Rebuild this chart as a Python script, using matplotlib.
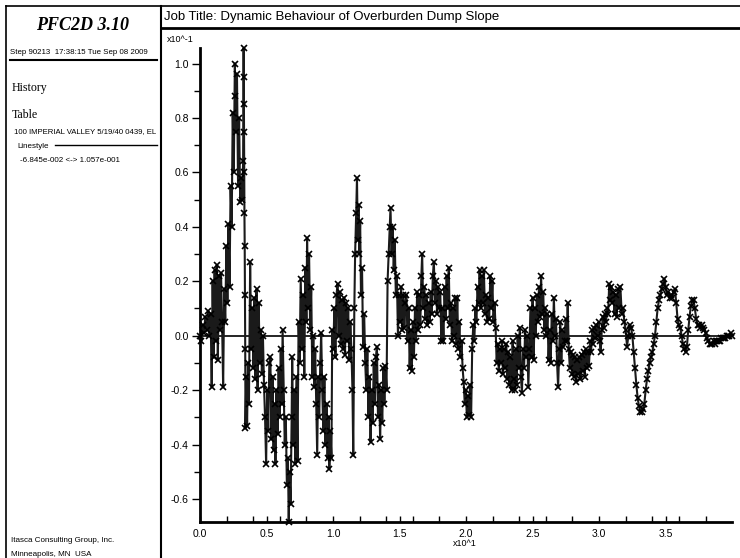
import matplotlib
matplotlib.use('Agg')
import matplotlib.pyplot as plt
from matplotlib.lines import Line2D
from matplotlib.ticker import MultipleLocator, FormatStrFormatter
import numpy as np

W, H = 740, 558

# history 100: (time in s, value in units of 1e-1)
seg_a = [(0.00, 0.00), (0.10, -0.02), (0.20, 0.04), (0.30, 0.01), (0.40, 0.07), (0.50, 0.02), (0.60, 0.09), (0.70, 0.00), (0.80, 0.08), (0.88, -0.19),
         (0.95, 0.20), (1.02, -0.08), (1.10, 0.24), (1.18, -0.02), (1.26, 0.26), (1.34, -0.09), (1.42, 0.22), (1.50, 0.02), (1.58, 0.23), (1.66, 0.05),
         (1.74, -0.19), (1.82, 0.17), (1.90, 0.05), (1.98, 0.33), (2.06, 0.12), (2.14, 0.41), (2.22, 0.18), (2.30, 0.55), (2.38, 0.40), (2.46, 0.82),
         (2.54, 0.60), (2.62, 1.00), (2.66, 0.88), (2.70, 0.75), (2.78, 0.96), (2.86, 0.55), (2.94, 0.80), (3.02, 0.49), (3.10, 0.58), (3.18, 0.50), (3.24, 0.64),
         (3.28, 1.057), (3.29, 0.95), (3.30, 0.85), (3.31, 0.75), (3.32, 0.60), (3.34, 0.45), (3.36, 0.33), (3.38, 0.15), (3.40, -0.05), (3.42, -0.34),
         (3.48, -0.15), (3.54, -0.33), (3.60, -0.10), (3.68, -0.25), (3.77, 0.27), (3.85, -0.05),
         (3.93, 0.10), (4.01, -0.12), (4.09, 0.14), (4.17, -0.16), (4.25, 0.17), (4.33, -0.20), (4.41, 0.12), (4.49, -0.10), (4.57, 0.02), (4.65, -0.14),
         (4.73, 0.00), (4.81, -0.18), (4.89, -0.30), (4.97, -0.47), (5.05, -0.20), (5.13, -0.35), (5.21, -0.10), (5.29, -0.08), (5.37, -0.38), (5.45, -0.15),
         (5.53, -0.42), (5.61, -0.25), (5.67, -0.47), (5.75, -0.20), (5.83, -0.36), (5.91, -0.12), (5.99, -0.30), (6.07, -0.05), (6.15, -0.25), (6.21, 0.02),
         (6.29, -0.20), (6.37, -0.40), (6.45, -0.30), (6.53, -0.55), (6.61, -0.45), (6.67, -0.6845), (6.73, -0.50), (6.81, -0.62), (6.89, -0.30), (6.93, -0.08),
         (7.01, -0.40), (7.09, -0.20), (7.17, -0.47), (7.25, -0.15), (7.33, -0.46), (7.41, 0.05), (7.49, -0.10), (7.57, 0.21)]

seg_b = [(7.68, -0.05), (7.76, 0.15), (7.84, -0.15), (7.92, 0.25), (8.00, 0.05), (8.05, 0.36), (8.12, 0.10), (8.20, 0.30), (8.28, 0.02), (8.36, 0.18),
         (8.44, -0.15), (8.52, 0.00), (8.58, -0.19), (8.66, -0.05), (8.74, -0.25), (8.81, -0.44), (8.88, -0.15), (8.96, -0.30), (9.04, -0.10), (9.11, 0.01),
         (9.19, -0.20), (9.27, -0.35), (9.35, -0.15), (9.43, -0.40), (9.51, -0.25), (9.59, -0.45), (9.67, -0.30), (9.72, -0.49), (9.80, -0.35), (9.88, -0.45),
         (9.94, 0.02), (10.02, -0.05), (10.10, 0.10), (10.18, -0.08), (10.26, 0.15), (10.34, 0.19), (10.42, 0.00), (10.50, 0.16), (10.58, -0.03), (10.66, 0.13),
         (10.74, -0.05), (10.82, 0.14), (10.90, -0.07), (10.98, 0.12), (11.06, -0.02), (11.14, 0.10), (11.22, -0.09), (11.30, 0.05), (11.38, -0.05), (11.46, -0.20),
         (11.52, -0.44), (11.60, 0.10), (11.66, 0.30), (11.74, 0.45), (11.80, 0.58), (11.86, 0.35), (11.92, 0.48), (11.98, 0.30), (12.04, 0.42), (12.10, 0.15),
         (12.18, 0.25), (12.26, -0.04), (12.34, 0.08), (12.42, -0.10), (12.50, -0.20), (12.58, -0.05), (12.66, -0.30), (12.74, -0.15), (12.82, -0.39), (12.90, -0.20),
         (12.98, -0.32), (13.06, -0.10), (13.14, -0.25), (13.22, -0.08), (13.30, -0.04), (13.38, -0.30), (13.46, -0.18), (13.54, -0.38), (13.62, -0.20), (13.70, -0.32),
         (13.78, -0.12), (13.86, -0.25), (13.94, -0.11), (14.02, -0.20), (14.10, 0.20), (14.18, 0.30), (14.26, 0.40), (14.32, 0.47), (14.40, 0.30), (14.48, 0.40),
         (14.56, 0.24), (14.64, 0.35), (14.72, 0.15), (14.80, 0.22), (14.88, 0.00), (14.96, 0.15), (15.04, 0.05), (15.12, 0.18), (15.20, 0.02), (15.28, 0.15),
         (15.36, 0.03), (15.44, 0.12)]

seg_c = [(15.52, 0.15), (15.60, -0.02), (15.68, 0.10), (15.76, -0.12), (15.84, 0.02), (15.92, -0.13), (16.00, 0.05), (16.08, -0.08), (16.16, 0.10), (16.24, -0.02),
         (16.32, 0.16), (16.40, 0.02), (16.48, 0.15), (16.56, 0.04), (16.64, 0.22), (16.70, 0.30), (16.78, 0.10), (16.86, 0.18), (16.94, 0.06), (17.02, 0.15),
         (17.10, 0.04), (17.18, 0.12), (17.26, 0.05), (17.34, 0.16), (17.42, 0.08), (17.50, 0.22), (17.58, 0.27), (17.66, 0.12), (17.74, 0.20), (17.82, 0.08),
         (17.90, 0.18), (17.98, 0.10), (18.06, 0.16), (18.14, -0.02), (18.22, 0.10), (18.30, -0.02), (18.38, 0.18), (18.46, 0.06), (18.54, 0.22), (18.62, 0.10),
         (18.70, 0.25), (18.78, 0.04), (18.86, 0.12), (18.94, -0.02), (19.02, 0.10), (19.10, 0.00), (19.18, 0.14), (19.26, -0.03), (19.34, 0.14), (19.42, -0.05),
         (19.50, 0.05), (19.58, -0.08), (19.66, -0.02), (19.74, -0.12), (19.82, -0.17), (19.90, -0.25), (19.98, -0.20), (20.06, -0.30), (20.14, -0.22), (20.22, -0.29),
         (20.30, -0.18), (20.38, -0.30), (20.46, -0.05), (20.54, 0.04), (20.62, -0.02), (20.70, 0.10), (20.78, 0.05), (20.86, 0.18), (20.94, 0.12), (21.02, 0.24),
         (21.10, 0.10), (21.18, 0.22), (21.26, 0.12), (21.34, 0.24), (21.42, 0.08), (21.50, 0.15), (21.58, 0.05), (21.66, 0.14), (21.74, 0.06), (21.82, 0.22),
         (21.90, 0.10), (21.98, 0.20), (22.06, 0.05), (22.14, 0.12), (22.22, 0.03), (22.30, -0.10), (22.38, -0.03), (22.46, -0.13), (22.54, -0.05), (22.62, -0.10),
         (22.70, -0.02), (22.78, -0.14), (22.86, -0.05), (22.94, -0.12), (23.02, -0.03), (23.10, -0.16), (23.18, -0.06), (23.26, -0.18), (23.34, -0.08), (23.42, -0.20)]

seg_d = [(23.50, -0.02), (23.58, -0.16), (23.65, -0.20), (23.72, -0.05), (23.80, -0.18), (23.88, 0.00), (23.96, -0.12), (24.04, 0.03), (24.12, -0.15), (24.20, -0.21),
         (24.28, -0.05), (24.36, -0.12), (24.44, 0.02), (24.52, -0.08), (24.60, 0.00), (24.68, -0.19), (24.76, -0.05), (24.84, 0.10), (24.92, -0.08), (25.00, 0.14),
         (25.08, -0.09), (25.16, 0.10), (25.24, 0.00), (25.32, 0.15), (25.40, 0.05), (25.48, 0.18), (25.56, 0.07), (25.64, 0.22), (25.72, 0.08), (25.80, 0.16),
         (25.88, 0.02), (25.96, 0.10), (26.04, 0.00), (26.12, 0.08), (26.20, -0.09), (26.28, 0.02), (26.36, -0.10), (26.44, 0.08), (26.52, -0.02), (26.60, 0.14),
         (26.68, 0.00), (26.76, 0.06), (26.84, -0.10), (26.92, -0.19), (27.00, -0.05), (27.08, 0.05), (27.16, -0.10), (27.24, 0.02), (27.32, -0.04), (27.40, -0.02),
         (27.48, 0.06), (27.56, -0.02), (27.64, 0.12), (27.72, -0.05), (27.80, -0.12), (27.88, -0.06), (27.96, -0.14), (28.04, -0.07), (28.12, -0.15), (28.20, -0.08),
         (28.28, -0.17), (28.36, -0.09), (28.44, -0.14), (28.52, -0.08), (28.60, -0.16), (28.68, -0.07), (28.76, -0.13), (28.84, -0.06), (28.92, -0.15), (29.00, -0.05),
         (29.08, -0.12), (29.16, -0.06), (29.24, -0.11), (29.32, -0.02), (29.40, -0.06), (29.48, 0.02), (29.56, -0.03), (29.64, 0.03), (29.72, -0.01), (29.80, 0.04),
         (29.88, 0.00), (29.96, 0.05), (30.04, -0.02), (30.12, -0.06), (30.20, 0.02), (30.28, 0.07), (30.36, 0.03), (30.44, 0.08), (30.52, 0.05), (30.60, 0.10),
         (30.68, 0.08), (30.76, 0.19), (30.84, 0.13), (30.92, 0.18), (31.00, 0.12), (31.08, 0.16), (31.16, 0.08), (31.24, 0.15), (31.32, 0.07), (31.40, 0.17)]

seg_e = [(31.50, 0.10), (31.60, 0.18), (31.70, 0.08), (31.80, 0.10), (31.90, 0.05), (32.00, 0.02), (32.10, -0.04), (32.20, 0.00), (32.30, 0.04), (32.40, 0.03),
         (32.50, 0.00), (32.60, -0.06), (32.70, -0.12), (32.80, -0.18), (32.90, -0.23), (33.00, -0.26), (33.10, -0.28), (33.20, -0.28), (33.30, -0.27), (33.40, -0.25),
         (33.50, -0.20), (33.60, -0.16), (33.70, -0.13), (33.80, -0.10), (33.90, -0.08), (34.00, -0.06), (34.10, -0.03), (34.20, 0.00), (34.30, 0.05), (34.40, 0.10),
         (34.50, 0.13), (34.60, 0.15), (34.70, 0.17), (34.80, 0.19), (34.90, 0.21), (35.00, 0.18), (35.10, 0.15), (35.20, 0.16), (35.30, 0.14), (35.40, 0.15),
         (35.50, 0.14), (35.60, 0.16), (35.70, 0.17), (35.80, 0.12), (35.90, 0.06), (36.00, 0.04), (36.10, 0.03), (36.20, 0.00), (36.30, -0.03), (36.40, -0.05),
         (36.50, -0.06), (36.60, -0.04), (36.70, 0.02), (36.80, 0.07), (36.90, 0.11), (37.00, 0.13), (37.10, 0.13), (37.20, 0.10), (37.30, 0.06), (37.40, 0.04),
         (37.50, 0.04), (37.60, 0.03), (37.70, 0.04), (37.80, 0.03), (37.90, 0.02), (38.00, 0.01), (38.10, -0.01), (38.20, -0.02), (38.30, -0.03), (38.40, -0.03),
         (38.50, -0.03), (38.60, -0.02), (38.70, -0.03), (38.80, -0.02), (38.90, -0.02), (39.00, -0.02), (39.10, -0.02), (39.20, -0.01), (39.30, -0.01), (39.40, -0.01),
         (39.50, -0.01), (39.60, 0.00), (39.70, 0.00), (39.80, 0.00), (39.90, 0.01), (39.99, 0.00)]


def fx(px):
    return px / W


def fy(py):
    return 1 - py / H


def sci3(v):
    # Fortran-like format: -6.845e-002
    e = int(np.floor(np.log10(abs(v))))
    return f'{v / 10 ** e:.3f}e{e:+04d}'


hist = np.array(seg_a + seg_b + seg_c + seg_d + seg_e)
t = hist[:, 0] / 10.0   # x10^1 s
v = hist[:, 1]          # x10^-1
vmin, vmax = v.min() * 0.1, v.max() * 0.1

plt.rcParams['font.family'] = ['Liberation Sans', 'DejaVu Sans']
fig = plt.figure(figsize=(W / 100, H / 100), dpi=100)

ax = fig.add_axes([fx(200), fy(522), fx(732) - fx(200), fy(48) - fy(522)])
ax.axhline(0, color='black', lw=1.2, zorder=1)
ax.plot(t, v, color='#1a1a1a', lw=1.5, marker='x', ms=4.6, mec='black', mew=1.2, clip_on=False, zorder=2)
ax.set_xlim(0, t.max())
ax.set_ylim(v.min(), v.max())

for side in ('top', 'right'):
    ax.spines[side].set_visible(False)
for side in ('left', 'bottom'):
    ax.spines[side].set_linewidth(2)

ax.xaxis.set_major_locator(MultipleLocator(0.5))
ax.xaxis.set_minor_locator(MultipleLocator(0.2))
ax.yaxis.set_major_locator(MultipleLocator(0.2))
ax.yaxis.set_minor_locator(MultipleLocator(0.1))
ax.xaxis.set_major_formatter(FormatStrFormatter('%.1f'))
ax.yaxis.set_major_formatter(FormatStrFormatter('%.1f'))
ax.tick_params(axis='x', which='both', direction='in', length=4, width=1, labelsize=7.5, pad=5)
ax.tick_params(axis='y', which='major', direction='out', length=6, width=1, labelsize=7.5, pad=2)
ax.tick_params(axis='y', which='minor', direction='out', length=4, width=1)

fig.text(fx(167), fy(40), 'x10^-1', fontsize=6.5, va='center', ha='left')
fig.text(fx(465), fy(544), 'x10^1', fontsize=6.5, va='center', ha='center')

# frame and panel borders
frame = [((6, 740), (6, 6), 1.2), ((6, 6), (6, 558), 1.2), ((161, 161), (6, 558), 1.5),
         ((161, 740), (28, 28), 2.0), ((10, 157), (60, 60), 1.5), ((55, 157), (145, 145), 1.0)]
for xs, ys, lw in frame:
    fig.add_artist(Line2D([fx(x) for x in xs], [fy(y) for y in ys], color='black', lw=lw))

fig.text(fx(164), fy(17), 'Job Title: Dynamic Behaviour of Overburden Dump Slope', fontsize=9.5, va='center', ha='left')

serif = ['Liberation Serif', 'DejaVu Serif']
small = 5.8
fig.text(fx(83), fy(26), 'PFC2D 3.10', fontsize=13, family=serif, weight='bold', style='italic', ha='center', va='center')
fig.text(fx(10), fy(53), 'Step 90213  17:38:15 Tue Sep 08 2009', fontsize=5.65, va='center')
fig.text(fx(12), fy(88), 'History', fontsize=8.6, family=serif, va='center')
fig.text(fx(12), fy(115), 'Table', fontsize=8.6, family=serif, va='center')
fig.text(fx(14), fy(132), '100 IMPERIAL VALLEY 5/19/40 0439, EL', fontsize=5.6, va='center')
fig.text(fx(17), fy(147), 'Linestyle', fontsize=small, va='center')
fig.text(fx(20), fy(161), f'{sci3(vmin)} <-> {sci3(vmax)}', fontsize=small, va='center')
fig.text(fx(11), fy(541), 'Itasca Consulting Group, Inc.', fontsize=small, va='center')
fig.text(fx(11), fy(554), 'Minneapolis, MN  USA', fontsize=small, va='center')

fig.savefig('out.png', dpi=100, facecolor='white')
